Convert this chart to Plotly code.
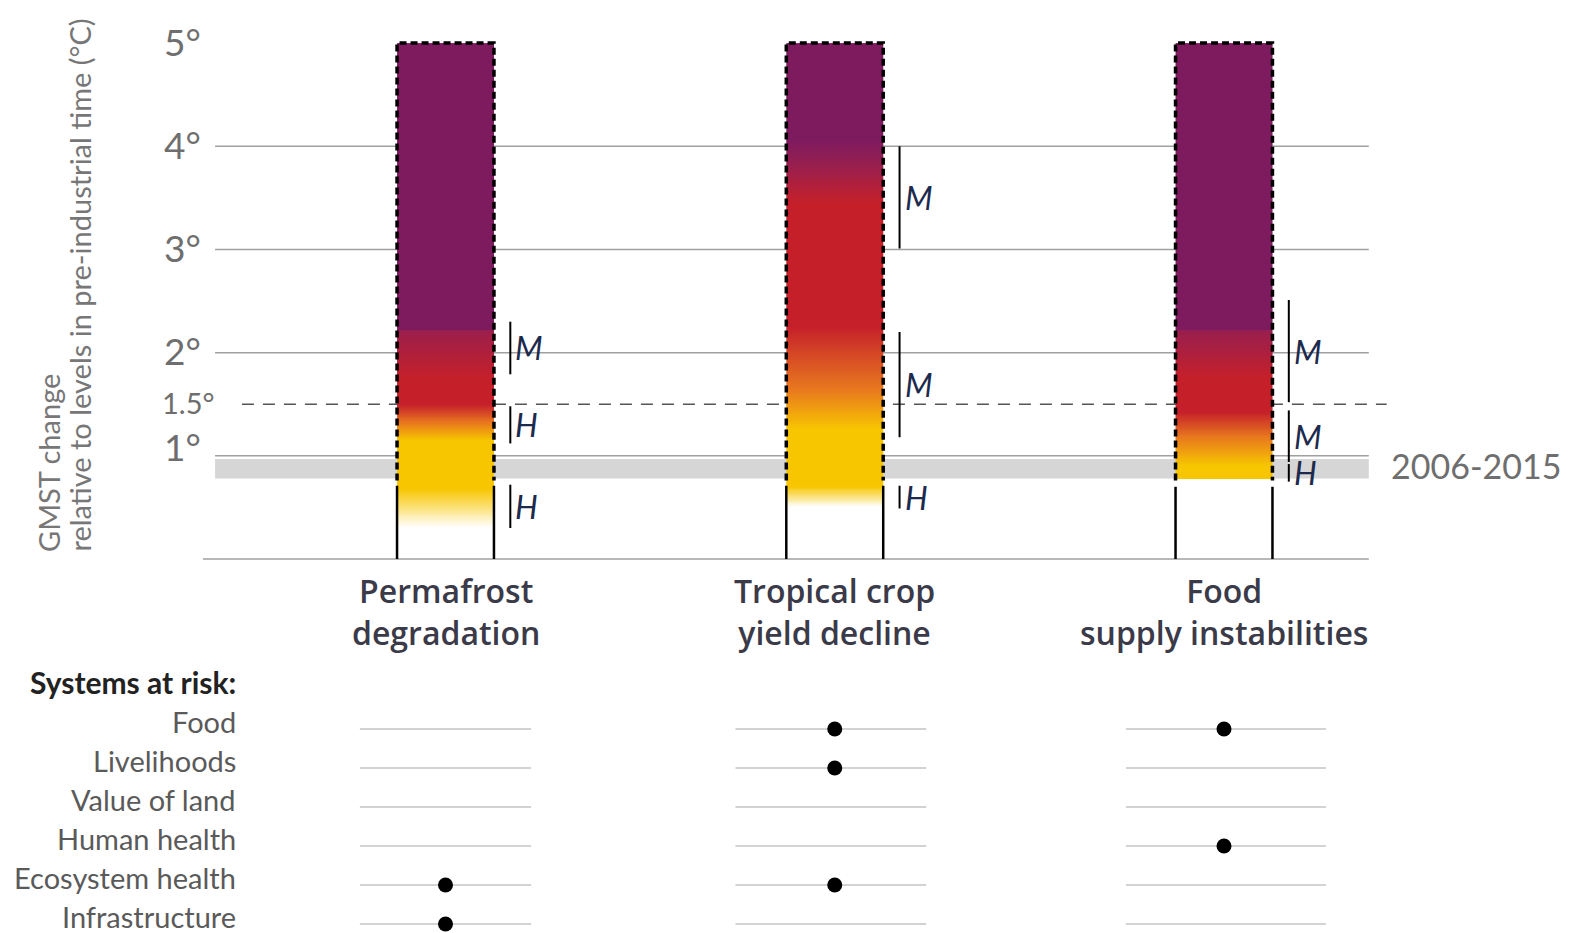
import numpy as np
import plotly.graph_objects as go

# ---------------- data ----------------
categories = ["Permafrost<br>degradation", "Tropical crop<br>yield decline", "Food<br>supply instabilities"]

# ember colour transitions: temperature (°C) -> risk level (0 undetectable, 1 moderate, 2 high, 3 very high)
ember_temps = [
    [0.30, 0.68, 1.15, 1.32, 1.50, 1.75, 2.21, 2.22, 5.0],
    [0.50, 0.70, 1.25, 1.65, 2.25, 3.45, 4.05, 5.0],
    [0.77, 0.90, 1.18, 1.42, 1.75, 2.21, 2.22, 5.0],
]
ember_levels = [
    [0, 1, 1, 1.5, 2, 2, 2.55, 3, 3],
    [0, 1, 1, 1.5, 2, 2, 3, 3],
    [1, 1, 1.5, 2, 2, 2.6, 3, 3],
]
ember_top = 5.0
dashed_bottom = [0.76, 0.76, 0.76]
solid_top = [0.71, 0.71, 0.70]

# confidence brackets: (low, high, label)
confidence = [
    [(1.79, 2.30, "M"), (1.12, 1.48, "H"), (0.30, 0.72, "H")],
    [(3.01, 4.00, "M"), (1.18, 2.20, "M"), (0.49, 0.71, "H")],
    [(1.52, 2.51, "M"), (0.94, 1.44, "M"), (0.75, 0.92, "H")],
]

y_ticks = [5, 4, 3, 2, 1.5, 1]
y_tick_text = ["5°", "4°", "3°", "2°", "1.5°", "1°"]
grid_vals = [0, 1, 2, 3, 4]
period_band = (0.78, 0.97)
period_label = "2006-2015"
y_title_lines = ["GMST change", "relative to levels in pre-industrial time (°C)"]

systems = ["Food", "Livelihoods", "Value of land", "Human health", "Ecosystem health", "Infrastructure"]
at_risk = [
    [0, 0, 0, 0, 1, 1],
    [1, 1, 0, 0, 1, 0],
    [1, 0, 0, 1, 0, 0],
]

# ---------------- styling ----------------
BAR_W = 0.249
colorscale = [
    [0.0, "#ffffff"],
    [1 / 3, "#f7c600"],
    [0.5, "#e8771f"],
    [2 / 3, "#c5202a"],
    [0.85, "#9c1f4b"],
    [1.0, "#7e1b5f"],
]
GRID = "#a0a0a0"
TICK_COL = "#6e6e6e"
FONT = "Lato"
W, H = 1576, 933
row_half = [0.22, 0.245, 0.257]
row_off = [0.0, -0.01, 0.005]

fig = go.Figure()
xpos = list(range(len(categories)))

# embers as heatmaps
for i, (ts, lv) in enumerate(zip(ember_temps, ember_levels)):
    edges = np.linspace(ts[0], ember_top, 501)
    centers = (edges[:-1] + edges[1:]) / 2
    z = np.interp(centers, ts, lv).reshape(-1, 1)
    fig.add_trace(go.Heatmap(
        x=[xpos[i] - BAR_W / 2, xpos[i] + BAR_W / 2], y=edges, z=z,
        colorscale=colorscale, zmin=0, zmax=3, showscale=False, hoverinfo="skip",
        xaxis="x", yaxis="y"))

# borders
for i in xpos:
    l, r = i - BAR_W / 2, i + BAR_W / 2
    fig.add_trace(go.Scatter(
        x=[l, l, r, r], y=[dashed_bottom[i], ember_top, ember_top, dashed_bottom[i]],
        mode="lines", line=dict(color="black", width=3.5, dash="7px,4px"),
        hoverinfo="skip", showlegend=False, xaxis="x", yaxis="y"))
    fig.add_trace(go.Scatter(
        x=[l, l, None, r, r], y=[0, solid_top[i], None, 0, solid_top[i]],
        mode="lines", line=dict(color="black", width=2.5),
        hoverinfo="skip", showlegend=False, xaxis="x", yaxis="y"))

# confidence brackets
annotations = []
for i in xpos:
    cx = i + BAR_W / 2 + 0.042
    xs, ys = [], []
    for lo, hi, lab in confidence[i]:
        xs += [cx, cx, None]
        ys += [lo, hi, None]
        annotations.append(dict(x=cx, y=(lo + hi) / 2, xref="x", yref="y", text=lab,
                                showarrow=False, xanchor="left", xshift=3,
                                font=dict(family=FONT, size=32, color="#1c2a4e", style="italic")))
    fig.add_trace(go.Scatter(x=xs, y=ys, mode="lines", line=dict(color="black", width=2),
                             hoverinfo="skip", showlegend=False, xaxis="x", yaxis="y"))

# shapes: grid, band, 1.5 dashed line
shapes = []
shapes.append(dict(type="rect", xref="x", yref="y", x0=-0.592, x1=2.372,
                   y0=period_band[0], y1=period_band[1], fillcolor="#d6d6d6",
                   line=dict(width=0), layer="below"))
for g in grid_vals:
    shapes.append(dict(type="line", xref="x", yref="y", x0=-0.623 if g == 0 else -0.592, x1=2.372,
                       y0=g, y1=g, line=dict(color=GRID, width=1.5), layer="below"))
shapes.append(dict(type="line", xref="x", yref="y", x0=-0.523, x1=2.418, y0=1.5, y1=1.5,
                   line=dict(color="#555555", width=1.5, dash="12px,9px"), layer="below"))

# y tick labels
for v, t in zip(y_ticks, y_tick_text):
    annotations.append(dict(x=(217 if v == 1.5 else 203) / W, xref="paper", y=v, yref="y", text=t,
                            showarrow=False, xanchor="right", yanchor="middle",
                            yshift=9 if v == 1 else 2,
                            font=dict(family=FONT, size=29 if v == 1.5 else 37, color=TICK_COL)))

annotations.append(dict(x=2.425, xref="x", y=sum(period_band) / 2, yref="y", text=period_label,
                        showarrow=False, xanchor="left", yanchor="middle", yshift=3,
                        font=dict(family=FONT, size=34, color="#6e6e6e")))

# y axis title (two rotated lines)
for k, (line_txt, xc) in enumerate(zip(y_title_lines, [48, 79])):
    annotations.append(dict(x=xc / W, xref="paper", y=1 - 554 / H, yref="paper",
                            text=line_txt, showarrow=False, textangle=-90,
                            xanchor="center", yanchor="bottom",
                            font=dict(family=FONT, size=29, color="#777777")))

# category labels
for i, c in enumerate(categories):
    annotations.append(dict(x=xpos[i], xref="x", y=1 - 611 / H, yref="paper",
                            text=c, showarrow=False, xanchor="center", yanchor="middle",
                            font=dict(family="Open Sans", size=32, color="#3a3a48", weight=600)))

# systems at risk panel
annotations.append(dict(x=238 / W, xref="paper", y=1 - 682 / H, yref="paper",
                        text="<b>Systems at risk:</b>", showarrow=False, xanchor="right",
                        yanchor="middle",
                        font=dict(family=FONT, size=30, color="#222222")))
for j, s in enumerate(systems):
    annotations.append(dict(x=238 / W, xref="paper", y=j, yref="y2", text=s, showarrow=False,
                            xanchor="right", yanchor="middle", yshift=7,
                            font=dict(family=FONT, size=29, color="#5a5a5a")))

for i in xpos:
    xs, ys = [], []
    for j in range(len(systems)):
        xs += [i + row_off[i] - row_half[i], i + row_off[i] + row_half[i], None]
        ys += [j, j, None]
    fig.add_trace(go.Scatter(x=xs, y=ys, mode="lines", line=dict(color="#c4c4c4", width=1.5),
                             hoverinfo="skip", showlegend=False, xaxis="x2", yaxis="y2"))
    dots_y = [j for j, flag in enumerate(at_risk[i]) if flag]
    fig.add_trace(go.Scatter(x=[i] * len(dots_y), y=dots_y, mode="markers",
                             marker=dict(color="black", size=15),
                             hoverinfo="skip", showlegend=False, xaxis="x2", yaxis="y2"))

XR = [-1.1445, 2.9043]
fig.update_layout(
    width=W, height=H,
    margin=dict(l=0, r=0, t=0, b=0),
    paper_bgcolor="white", plot_bgcolor="rgba(0,0,0,0)",
    showlegend=False,
    xaxis=dict(range=XR, domain=[0, 1], visible=False, fixedrange=True, anchor="y"),
    yaxis=dict(range=[-0.1, 5.3], domain=[0.3898, 0.987], visible=False, fixedrange=True, anchor="x"),
    xaxis2=dict(range=XR, domain=[0, 1], visible=False, fixedrange=True, anchor="y2"),
    yaxis2=dict(range=[5.231, -1], domain=[0, 0.2605], visible=False, fixedrange=True, anchor="x2"),
    shapes=shapes,
    annotations=annotations,
)

fig.write_html("out.html")
